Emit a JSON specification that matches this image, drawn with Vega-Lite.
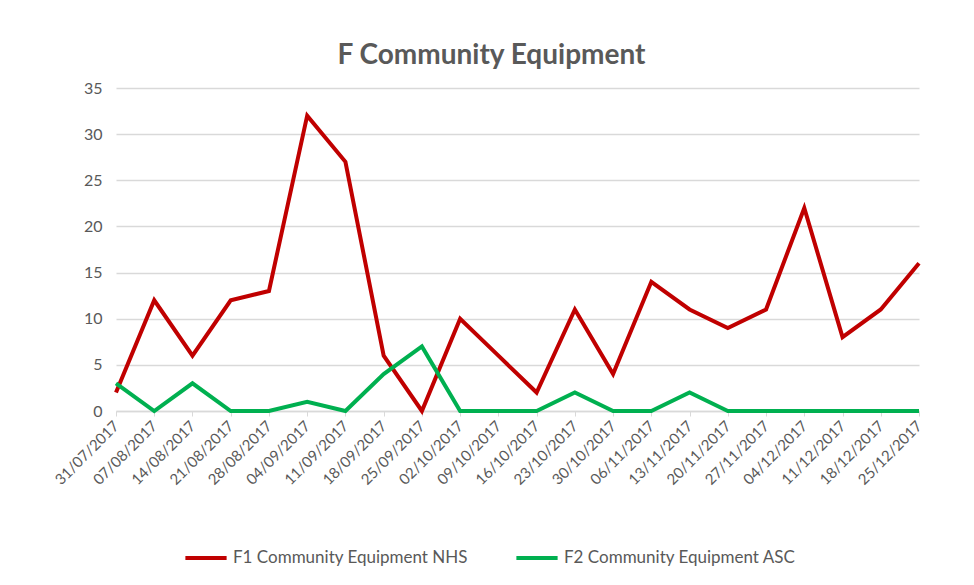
{
  "$schema": "https://vega.github.io/schema/vega-lite/v6.json",
  "width": 803,
  "height": 323,
  "autosize": {"type": "none"},
  "padding": {"left": 116, "top": 88, "right": 55, "bottom": 174},
  "background": "white",
  "title": {
    "text": "F Community Equipment",
    "font": "Lato",
    "fontSize": 28,
    "fontWeight": "bold",
    "color": "#595959",
    "anchor": "middle",
    "dx": -26,
    "offset": 10
  },
  "config": {
    "view": {"stroke": null},
    "font": "Lato"
  },
  "data": {
    "values": [
      {"week": "31/07/2017", "series": "F1 Community Equipment NHS", "value": 2},
      {"week": "07/08/2017", "series": "F1 Community Equipment NHS", "value": 12},
      {"week": "14/08/2017", "series": "F1 Community Equipment NHS", "value": 6},
      {"week": "21/08/2017", "series": "F1 Community Equipment NHS", "value": 12},
      {"week": "28/08/2017", "series": "F1 Community Equipment NHS", "value": 13},
      {"week": "04/09/2017", "series": "F1 Community Equipment NHS", "value": 32},
      {"week": "11/09/2017", "series": "F1 Community Equipment NHS", "value": 27},
      {"week": "18/09/2017", "series": "F1 Community Equipment NHS", "value": 6},
      {"week": "25/09/2017", "series": "F1 Community Equipment NHS", "value": 0},
      {"week": "02/10/2017", "series": "F1 Community Equipment NHS", "value": 10},
      {"week": "09/10/2017", "series": "F1 Community Equipment NHS", "value": 6},
      {"week": "16/10/2017", "series": "F1 Community Equipment NHS", "value": 2},
      {"week": "23/10/2017", "series": "F1 Community Equipment NHS", "value": 11},
      {"week": "30/10/2017", "series": "F1 Community Equipment NHS", "value": 4},
      {"week": "06/11/2017", "series": "F1 Community Equipment NHS", "value": 14},
      {"week": "13/11/2017", "series": "F1 Community Equipment NHS", "value": 11},
      {"week": "20/11/2017", "series": "F1 Community Equipment NHS", "value": 9},
      {"week": "27/11/2017", "series": "F1 Community Equipment NHS", "value": 11},
      {"week": "04/12/2017", "series": "F1 Community Equipment NHS", "value": 22},
      {"week": "11/12/2017", "series": "F1 Community Equipment NHS", "value": 8},
      {"week": "18/12/2017", "series": "F1 Community Equipment NHS", "value": 11},
      {"week": "25/12/2017", "series": "F1 Community Equipment NHS", "value": 16},
      {"week": "31/07/2017", "series": "F2 Community Equipment ASC", "value": 3},
      {"week": "07/08/2017", "series": "F2 Community Equipment ASC", "value": 0},
      {"week": "14/08/2017", "series": "F2 Community Equipment ASC", "value": 3},
      {"week": "21/08/2017", "series": "F2 Community Equipment ASC", "value": 0},
      {"week": "28/08/2017", "series": "F2 Community Equipment ASC", "value": 0},
      {"week": "04/09/2017", "series": "F2 Community Equipment ASC", "value": 1},
      {"week": "11/09/2017", "series": "F2 Community Equipment ASC", "value": 0},
      {"week": "18/09/2017", "series": "F2 Community Equipment ASC", "value": 4},
      {"week": "25/09/2017", "series": "F2 Community Equipment ASC", "value": 7},
      {"week": "02/10/2017", "series": "F2 Community Equipment ASC", "value": 0},
      {"week": "09/10/2017", "series": "F2 Community Equipment ASC", "value": 0},
      {"week": "16/10/2017", "series": "F2 Community Equipment ASC", "value": 0},
      {"week": "23/10/2017", "series": "F2 Community Equipment ASC", "value": 2},
      {"week": "30/10/2017", "series": "F2 Community Equipment ASC", "value": 0},
      {"week": "06/11/2017", "series": "F2 Community Equipment ASC", "value": 0},
      {"week": "13/11/2017", "series": "F2 Community Equipment ASC", "value": 2},
      {"week": "20/11/2017", "series": "F2 Community Equipment ASC", "value": 0},
      {"week": "27/11/2017", "series": "F2 Community Equipment ASC", "value": 0},
      {"week": "04/12/2017", "series": "F2 Community Equipment ASC", "value": 0},
      {"week": "11/12/2017", "series": "F2 Community Equipment ASC", "value": 0},
      {"week": "18/12/2017", "series": "F2 Community Equipment ASC", "value": 0},
      {"week": "25/12/2017", "series": "F2 Community Equipment ASC", "value": 0}
    ]
  },
  "mark": {"type": "line", "strokeWidth": 4, "strokeJoin": "miter"},
  "encoding": {
    "x": {
      "field": "week",
      "type": "ordinal",
      "sort": null,
      "scale": {"type": "point", "padding": 0},
      "axis": {
        "title": null,
        "labelAngle": -45,
        "labelAlign": "right",
        "labelBaseline": "middle",
        "labelFont": "Lato",
        "labelFontSize": 15,
        "labelColor": "#595959",
        "labelPadding": 7,
        "tickColor": "#d9d9d9",
        "tickSize": 5,
        "domainColor": "#d9d9d9",
        "domainWidth": 1.5,
        "grid": false
      }
    },
    "y": {
      "field": "value",
      "type": "quantitative",
      "scale": {"domain": [0, 35], "nice": false},
      "axis": {
        "title": null,
        "values": [0, 5, 10, 15, 20, 25, 30, 35],
        "domain": false,
        "ticks": false,
        "labelPadding": 14,
        "labelFont": "Lato",
        "labelFontSize": 16,
        "labelColor": "#595959",
        "gridColor": "#d9d9d9",
        "gridWidth": 1.5
      }
    },
    "color": {
      "field": "series",
      "type": "nominal",
      "scale": {
        "domain": ["F1 Community Equipment NHS", "F2 Community Equipment ASC"],
        "range": ["#c00000", "#00b050"]
      },
      "legend": {
        "title": null,
        "orient": "none",
        "direction": "horizontal",
        "legendX": 67,
        "legendY": 447,
        "symbolType": "stroke",
        "symbolSize": 1700,
        "symbolStrokeWidth": 4,
        "labelFont": "Lato",
        "labelFontSize": 17,
        "labelColor": "#595959",
        "labelOffset": 4,
        "columnPadding": 40,
        "labelLimit": 400
      }
    }
  }
}
